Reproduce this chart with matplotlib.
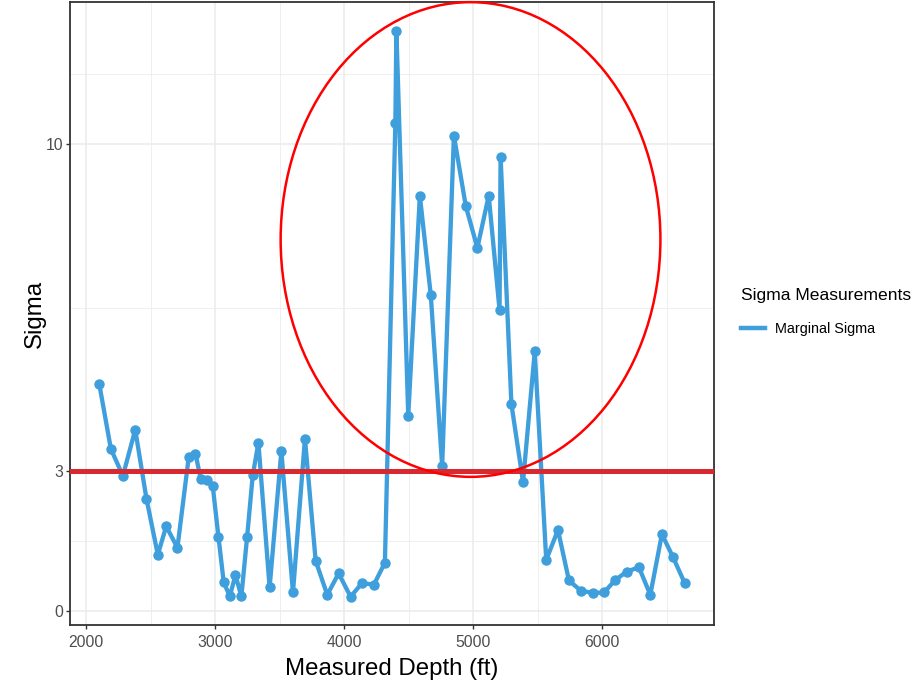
import numpy as np
import matplotlib.pyplot as plt
from matplotlib.patches import Ellipse
from matplotlib.lines import Line2D

plt.rcParams['font.family'] = ['Liberation Sans', 'DejaVu Sans']

# marginal sigma along the well
depth = [2101, 2191, 2284, 2380, 2467, 2555, 2620, 2707, 2795, 2847,
         2888, 2935, 2981, 3025, 3066, 3113, 3157, 3203, 3247, 3291,
         3335, 3422, 3513, 3603, 3696, 3779, 3869, 3957, 4050, 4138,
         4231, 4316, 4397, 4405, 4497, 4587, 4672, 4760, 4851, 4943,
         5033, 5121, 5205, 5213, 5297, 5387, 5478, 5567, 5658, 5743,
         5834, 5930, 6015, 6103, 6193, 6286, 6374, 6464, 6550, 6641]
sigma = [4.86, 3.47, 2.89, 3.88, 2.40, 1.20, 1.81, 1.35, 3.30, 3.37,
         2.82, 2.81, 2.67, 1.59, 0.61, 0.31, 0.76, 0.31, 1.57, 2.90,
         3.60, 0.50, 3.42, 0.39, 3.69, 1.07, 0.34, 0.80, 0.30, 0.59,
         0.56, 1.03, 10.45, 12.44, 4.18, 8.90, 6.76, 3.10, 10.19, 8.68,
         7.78, 8.90, 6.45, 9.74, 4.43, 2.76, 5.56, 1.09, 1.73, 0.65,
         0.43, 0.38, 0.39, 0.66, 0.84, 0.93, 0.34, 1.64, 1.15, 0.59]

threshold = 3
x_breaks = [2000, 3000, 4000, 5000, 6000]
x_minor = [2500, 3500, 4500, 5500, 6500]
y_breaks = [0, 3, 10]
y_minor = [1.5, 6.5, 11.5]

# highlighted zone: centre, width, height
zone_center = (4980, 7.96)
zone_size = (2945, 10.18)

blue = '#3E9FDC'
red_line = '#D7292F'
grid_col = '#EBEBEB'
dark = '#333333'

fig = plt.figure(figsize=(9.19, 6.86), dpi=100)
ax = fig.add_axes([70 / 919, 61 / 686, 644 / 919, 622.7 / 686])

ax.plot(depth, sigma, color=blue, lw=3.1, marker='o', ms=6.5, zorder=3)
ax.axhline(threshold, color=red_line, lw=3.6, zorder=4)
ax.add_patch(Ellipse(zone_center, zone_size[0], zone_size[1], fill=False,
                     edgecolor='#FF0000', lw=1.8, zorder=5, clip_on=False))

# ggplot-like 5% expansion
dx = max(depth) - min(depth)
dy = max(sigma) - min(sigma)
ax.set_xlim(min(depth) - 0.05 * dx, max(depth) + 0.05 * dx)
ax.set_ylim(min(sigma) - 0.05 * dy, max(sigma) + 0.05 * dy)

ax.set_xticks(x_breaks)
ax.set_xticks(x_minor, minor=True)
ax.set_yticks(y_breaks)
ax.set_yticks(y_minor, minor=True)
ax.grid(which='major', color=grid_col, lw=1.1, zorder=0)
ax.grid(which='minor', color=grid_col, lw=0.55, zorder=0)
ax.set_axisbelow(True)
ax.tick_params(which='major', length=3, width=1, color=dark,
               labelsize=11.3, labelcolor='#4D4D4D', pad=2)
ax.tick_params(axis='x', which='major', pad=4)
ax.tick_params(which='minor', length=0)
for s in ax.spines.values():
    s.set_color(dark)
    s.set_linewidth(1.3)

ax.set_xlabel('Measured Depth (ft)', fontsize=17.3, labelpad=6)
ax.set_ylabel('Sigma', fontsize=17.3, labelpad=0)

handles = [Line2D([], [], color=blue, lw=3.2)]
fig.legend(handles, ['Marginal Sigma'], title='Sigma Measurements',
           loc='center left', bbox_to_anchor=(728 / 919, 1 - 312 / 686),
           frameon=False, fontsize=10.4, title_fontsize=12.6,
           alignment='left', handlelength=1.65, handletextpad=0.7,
           labelspacing=1.3)

fig.savefig('out.png', dpi=100)
